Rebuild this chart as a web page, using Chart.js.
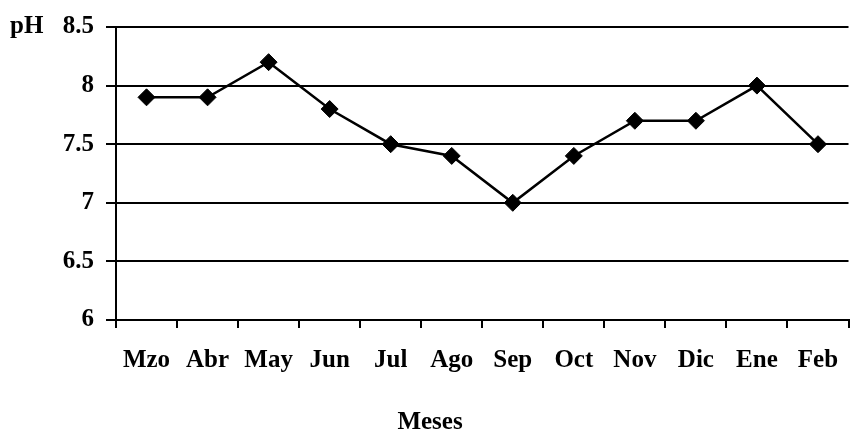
<!DOCTYPE html>
<html lang="es">
<head>
    <meta charset="UTF-8">
    <title>pH por mes</title>
    <script src="https://cdn.jsdelivr.net/npm/chart.js"></script>
    <style>
        html, body { margin: 0; padding: 0; background: #fff; }
        #wrap { width: 858px; height: 434px; }
    </style>
</head>
<body>
    <div id="wrap"><canvas id="myChart"></canvas></div>
    <script>
        // Data
        const months = ['Mzo', 'Abr', 'May', 'Jun', 'Jul', 'Ago', 'Sep', 'Oct', 'Nov', 'Dic', 'Ene', 'Feb'];
        const phValues = [7.9, 7.9, 8.2, 7.8, 7.5, 7.4, 7.0, 7.4, 7.7, 7.7, 8.0, 7.5];
        const yMin = 6, yMax = 8.5, yStep = 0.5;

        const serif = "'Liberation Serif', 'Times New Roman', serif";

        // "pH" beside the top tick and "Meses" under the axis (not centred on the plot in the original)
        const extraLabels = {
            id: 'extraLabels',
            afterDraw(chart) {
                const c = chart.ctx;
                const y = chart.scales.y.getPixelForValue(yMax);
                c.save();
                c.font = 'bold 25px ' + serif;
                c.fillStyle = '#000';
                c.textBaseline = 'middle';
                c.textAlign = 'left';
                c.fillText('pH', 10, y);
                c.textAlign = 'center';
                c.fillText('Meses', 430, 423);
                c.restore();
            }
        };

        new Chart(document.getElementById('myChart'), {
            type: 'line',
            data: {
                labels: months,
                datasets: [{
                    data: phValues,
                    borderColor: '#000',
                    borderWidth: 2.5,
                    pointStyle: 'rectRot',
                    pointRadius: 8.5,
                    pointBackgroundColor: '#000',
                    pointBorderColor: '#000',
                    pointBorderWidth: 1,
                    tension: 0
                }]
            },
            options: {
                responsive: true,
                maintainAspectRatio: false,
                animation: false,
                layout: { padding: { top: 18, right: 1, left: 0, bottom: 0 } },
                plugins: {
                    legend: { display: false },
                    tooltip: { enabled: false }
                },
                scales: {
                    x: {
                        offset: true,
                        afterFit(scale) { scale.height = 114; },
                        grid: {
                            offset: true,
                            drawOnChartArea: false,
                            color: '#000',
                            lineWidth: 2,
                            tickLength: 8
                        },
                        border: { color: '#000', width: 2 },
                        ticks: {
                            color: '#000',
                            padding: 18,
                            maxRotation: 0,
                            autoSkip: false,
                            font: { family: serif, size: 25, weight: 'bold' }
                        }
                    },
                    y: {
                        min: yMin,
                        max: yMax,
                        afterFit(scale) { scale.width = 116; },
                        grid: {
                            color: '#000',
                            lineWidth: 2,
                            tickLength: 10
                        },
                        border: { color: '#000', width: 2 },
                        ticks: {
                            stepSize: yStep,
                            color: '#000',
                            padding: 12,
                            callback: (v) => String(v),
                            font: { family: serif, size: 25, weight: 'bold' }
                        }
                    }
                }
            },
            plugins: [extraLabels]
        });
    </script>
</body>
</html>
